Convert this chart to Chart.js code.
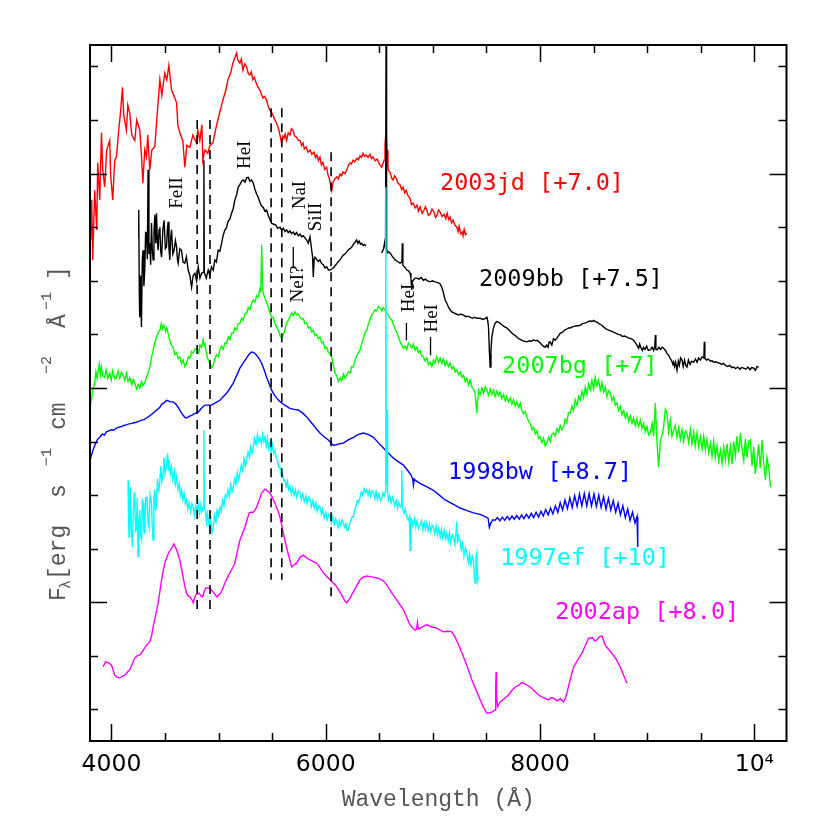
<!DOCTYPE html>
<html>
<head>
<meta charset="utf-8">
<script src="https://cdn.jsdelivr.net/npm/chart.js@4.4.1/dist/chart.umd.min.js"></script>
<style>
html,body{margin:0;padding:0;background:#fff;}
#wrap{width:830px;height:830px;}
</style>
</head>
<body>
<div id="wrap"><canvas id="c" width="830" height="830"></canvas></div>
<script>
// ---------------- DATA ----------------
const seriesNames = ['2003jd [+7.0]', '2009bb [+7.5]', '2007bg [+7]', '1998bw [+8.7]', '1997ef [+10]', '2002ap [+8.0]'];

const spec2003jd = [[3797,8.01],[3806,6.76],[3816,7.51],[3825,6.39],[3844,7.69],[3863,6.95],[3872,8.20],[3891,7.51],[3907,8.76],[3919,8.07],[3937,7.75],[3956,8.44],[3984,8.62],[3993,7.97],[4012,7.51],[4031,8.25],[4047,8.31],[4068,8.81],[4087,9.19],[4103,9.61],[4115,9.09],[4140,8.81],[4153,9.28],[4171,9.13],[4190,8.72],[4218,8.62],[4236,9.00],[4265,8.81],[4283,8.25],[4293,7.82],[4311,8.44],[4327,8.31],[4339,8.72],[4358,8.07],[4377,8.44],[4405,8.50],[4423,9.00],[4452,9.75],[4470,9.46],[4498,9.88],[4517,9.75],[4536,10.02],[4561,9.56],[4582,9.46],[4608,9.32],[4620,8.91],[4638,8.76],[4666,8.62],[4685,8.12],[4704,8.53],[4732,8.49],[4760,8.72],[4794,8.57],[4806,8.81],[4825,8.62],[4844,8.91],[4853,8.25],[4872,8.44],[4900,8.38],[4919,8.53],[4947,8.57],[4975,8.85],[4993,9.00],[5021,9.22],[5040,9.37],[5068,9.56],[5087,9.75],[5115,9.89],[5133,10.06],[5152,10.16],[5168,10.25],[5180,10.12],[5199,10.06],[5213,10.14],[5227,9.93],[5245,10.05],[5262,9.99],[5278,9.86],[5292,9.84],[5306,9.90],[5320,9.75],[5334,9.80],[5348,9.71],[5366,9.62],[5386,9.56],[5400,9.48],[5414,9.41],[5430,9.44],[5448,9.37],[5460,9.28],[5470,9.22],[5482,9.18],[5495,9.13],[5507,9.10],[5517,9.04],[5530,8.98],[5542,8.94],[5552,8.88],[5563,8.81],[5575,8.70],[5588,8.57],[5600,8.70],[5610,8.66],[5622,8.74],[5635,8.62],[5650,8.76],[5666,8.72],[5680,8.84],[5694,8.81],[5710,8.70],[5728,8.68],[5744,8.62],[5760,8.62],[5775,8.52],[5788,8.57],[5800,8.46],[5816,8.50],[5835,8.40],[5853,8.44],[5870,8.36],[5890,8.40],[5905,8.30],[5918,8.35],[5932,8.24],[5946,8.31],[5960,8.16],[5974,8.21],[5990,8.08],[6009,8.12],[6020,7.98],[6031,7.92],[6045,7.80],[6056,7.69],[6068,7.84],[6085,7.90],[6103,7.94],[6118,7.90],[6133,7.99],[6148,7.96],[6161,8.03],[6180,8.00],[6196,8.07],[6212,8.16],[6227,8.20],[6240,8.18],[6255,8.25],[6270,8.22],[6292,8.29],[6305,8.26],[6320,8.33],[6334,8.30],[6348,8.38],[6362,8.32],[6376,8.35],[6395,8.30],[6413,8.36],[6427,8.28],[6441,8.31],[6460,8.24],[6479,8.27],[6500,8.18],[6523,8.12],[6544,8.25],[6553,8.53],[6563,8.81],[6572,8.44],[6581,8.07],[6600,8.03],[6614,7.92],[6628,7.88],[6642,7.96],[6656,7.92],[6675,7.82],[6694,7.79],[6708,7.70],[6722,7.75],[6736,7.64],[6750,7.69],[6770,7.58],[6787,7.54],[6800,7.42],[6815,7.45],[6834,7.36],[6852,7.41],[6866,7.30],[6880,7.38],[6900,7.26],[6918,7.32],[6930,7.38],[6943,7.32],[6958,7.22],[6974,7.24],[6992,7.34],[7011,7.28],[7025,7.18],[7039,7.23],[7053,7.32],[7067,7.28],[7086,7.20],[7105,7.24],[7120,7.16],[7133,7.26],[7147,7.14],[7161,7.19],[7175,7.08],[7189,7.13],[7205,7.04],[7223,7.00],[7235,6.92],[7245,7.02],[7260,6.88],[7273,6.91],[7282,6.84],[7292,6.96],[7305,6.86],[7317,6.89]];

const spec2009bb = [[4250,6.80],[4255,7.32],[4260,5.80],[4264,5.32],[4272,6.10],[4280,5.14],[4288,6.40],[4295,6.57],[4303,5.90],[4311,6.20],[4319,6.90],[4327,6.89],[4335,6.40],[4342,8.07],[4350,6.50],[4358,6.70],[4366,6.30],[4374,7.08],[4381,6.60],[4389,6.39],[4397,6.90],[4405,7.23],[4413,6.70],[4421,7.26],[4428,6.75],[4436,6.57],[4444,6.95],[4452,7.00],[4460,6.55],[4468,6.44],[4480,6.95],[4492,7.13],[4503,6.60],[4514,6.63],[4522,6.95],[4529,7.10],[4537,6.60],[4545,6.39],[4553,6.80],[4561,6.95],[4573,6.50],[4585,6.57],[4597,6.75],[4608,6.63],[4616,6.40],[4623,6.33],[4638,6.60],[4654,6.57],[4668,6.35],[4685,6.33],[4700,6.45],[4716,6.20],[4732,6.10],[4748,5.88],[4763,6.10],[4779,6.14],[4795,6.00],[4810,6.26],[4826,6.05],[4841,6.14],[4858,6.16],[4863,8.25],[4867,6.16],[4885,6.05],[4903,6.20],[4918,6.10],[4934,6.26],[4950,6.20],[4965,6.39],[4980,6.35],[4996,6.57],[5012,6.55],[5028,6.70],[5043,6.85],[5059,6.95],[5073,6.98],[5087,7.10],[5105,7.15],[5121,7.26],[5137,7.35],[5152,7.51],[5168,7.60],[5183,7.75],[5200,7.80],[5215,7.86],[5230,7.88],[5246,7.84],[5262,7.92],[5277,7.93],[5292,7.86],[5308,7.88],[5324,7.82],[5340,7.70],[5355,7.62],[5370,7.56],[5386,7.46],[5400,7.40],[5417,7.37],[5432,7.30],[5448,7.32],[5464,7.22],[5480,7.14],[5495,7.07],[5510,7.06],[5535,7.04],[5550,6.98],[5573,7.00],[5590,6.94],[5605,6.98],[5620,6.92],[5635,6.95],[5650,6.90],[5666,6.93],[5680,6.88],[5697,6.91],[5712,6.86],[5728,6.90],[5744,6.84],[5760,6.87],[5775,6.82],[5790,6.84],[5806,6.80],[5822,6.76],[5837,6.70],[5853,6.82],[5861,6.70],[5869,6.57],[5877,6.45],[5884,6.07],[5892,6.40],[5900,6.44],[5915,6.40],[5930,6.36],[5946,6.39],[5962,6.32],[5977,6.30],[5993,6.24],[6009,6.26],[6025,6.20],[6040,6.20],[6056,6.22],[6071,6.24],[6087,6.28],[6103,6.32],[6118,6.36],[6133,6.39],[6150,6.44],[6164,6.48],[6180,6.50],[6196,6.54],[6211,6.58],[6227,6.60],[6242,6.63],[6258,6.68],[6274,6.72],[6289,6.76],[6300,6.70],[6312,6.74],[6325,6.68],[6336,6.70],[6350,6.66],[6362,6.68],[6376,6.65],[6450,null],[6523,6.52],[6540,6.60],[6554,6.76],[6558,6.60],[6563,10.6],[6568,6.60],[6575,6.52],[6590,6.54],[6600,6.52],[6620,6.46],[6647,6.39],[6670,6.36],[6694,6.33],[6711,6.35],[6715,6.70],[6720,6.29],[6740,6.25],[6757,6.20],[6775,6.18],[6787,6.14],[6795,6.05],[6803,5.83],[6810,6.00],[6818,6.01],[6834,6.05],[6850,6.05],[6870,6.03],[6890,6.06],[6912,6.01],[6930,6.03],[6950,6.00],[6974,5.98],[6995,6.00],[7020,5.98],[7040,5.97],[7052,5.96],[7068,5.94],[7083,5.88],[7098,5.78],[7114,5.64],[7130,5.58],[7145,5.51],[7160,5.46],[7177,5.42],[7195,5.40],[7217,5.38],[7240,5.36],[7260,5.38],[7285,5.36],[7310,5.33],[7330,5.34],[7347,5.32],[7370,5.30],[7390,5.32],[7410,5.30],[7441,5.30],[7470,5.28],[7490,5.30],[7504,5.32],[7512,5.25],[7519,5.14],[7527,4.70],[7534,4.39],[7542,4.70],[7550,4.95],[7565,5.12],[7581,5.21],[7597,5.24],[7612,5.23],[7630,5.20],[7650,5.17],[7670,5.14],[7690,5.12],[7710,5.08],[7730,5.04],[7750,5.00],[7768,4.98],[7784,4.95],[7800,4.92],[7820,4.90],[7840,4.88],[7860,4.87],[7877,4.86],[7900,4.88],[7920,4.87],[7940,4.90],[7955,4.88],[7971,4.89],[7990,4.86],[8010,4.82],[8030,4.78],[8048,4.76],[8060,4.80],[8075,4.76],[8085,4.86],[8095,4.86],[8110,4.80],[8125,4.92],[8142,4.89],[8160,4.94],[8175,4.98],[8188,5.02],[8210,5.04],[8230,5.08],[8250,5.10],[8265,5.12],[8282,5.12],[8300,5.14],[8320,5.15],[8340,5.16],[8358,5.16],[8375,5.17],[8395,5.20],[8415,5.21],[8435,5.22],[8450,5.24],[8469,5.25],[8485,5.24],[8500,5.26],[8515,5.24],[8531,5.23],[8550,5.20],[8570,5.18],[8593,5.14],[8615,5.10],[8640,5.08],[8665,5.06],[8686,5.04],[8710,5.02],[8730,5.00],[8750,4.99],[8770,4.96],[8790,4.97],[8811,4.95],[8830,4.93],[8850,4.92],[8873,4.89],[8890,4.84],[8905,4.80],[8920,4.74],[8930,4.82],[8940,4.76],[8955,4.70],[8966,4.76],[8980,4.72],[8995,4.78],[9010,4.70],[9029,4.71],[9045,4.76],[9060,4.70],[9071,4.78],[9076,4.99],[9081,4.72],[9092,4.71],[9110,4.76],[9125,4.72],[9140,4.76],[9153,4.74],[9170,4.70],[9185,4.64],[9200,4.61],[9215,4.55],[9230,4.50],[9240,4.44],[9247,4.48],[9255,4.40],[9265,4.48],[9278,4.33],[9290,4.50],[9300,4.42],[9312,4.56],[9325,4.52],[9336,4.40],[9348,4.52],[9360,4.42],[9371,4.39],[9385,4.52],[9400,4.44],[9415,4.50],[9433,4.48],[9450,4.54],[9465,4.48],[9480,4.56],[9496,4.52],[9512,4.58],[9529,4.56],[9533,4.86],[9538,4.56],[9552,4.52],[9570,4.54],[9590,4.50],[9605,4.51],[9620,4.48],[9640,4.49],[9660,4.47],[9680,4.46],[9695,4.44],[9713,4.46],[9730,4.42],[9750,4.40],[9770,4.42],[9790,4.38],[9807,4.39],[9825,4.36],[9845,4.39],[9865,4.35],[9880,4.38],[9900,4.37],[9920,4.35],[9940,4.39],[9960,4.34],[9975,4.38],[9994,4.37],[10010,4.33],[10025,4.40],[10041,4.39]];

const spec2007bg = [[3797,3.40],[3805,3.70],[3813,3.77],[3825,3.95],[3844,4.09],[3855,4.30],[3866,4.18],[3875,4.30],[3887,4.45],[3897,4.25],[3907,4.39],[3920,4.22],[3937,4.20],[3950,4.34],[3965,4.18],[3984,4.28],[3998,4.15],[4012,4.32],[4030,4.17],[4047,4.20],[4062,4.32],[4078,4.18],[4093,4.30],[4108,4.24],[4125,4.14],[4140,4.28],[4155,4.12],[4171,4.19],[4190,4.06],[4205,4.16],[4218,4.09],[4235,3.98],[4250,4.06],[4265,4.00],[4280,4.12],[4295,4.04],[4311,4.09],[4330,4.22],[4345,4.30],[4358,4.39],[4375,4.58],[4390,4.70],[4405,4.84],[4420,4.95],[4435,5.02],[4452,5.08],[4465,5.20],[4478,5.10],[4489,5.17],[4505,5.05],[4517,5.12],[4529,5.02],[4545,4.88],[4560,4.80],[4576,4.76],[4592,4.62],[4608,4.66],[4622,4.55],[4638,4.58],[4655,4.45],[4670,4.52],[4685,4.40],[4701,4.46],[4717,4.58],[4732,4.55],[4748,4.68],[4763,4.65],[4780,4.72],[4800,4.74],[4815,4.66],[4826,4.80],[4841,4.76],[4856,4.90],[4864,4.78],[4872,4.84],[4888,4.62],[4903,4.52],[4919,4.46],[4935,4.38],[4950,4.43],[4965,4.55],[4980,4.62],[4996,4.58],[5012,4.71],[5028,4.78],[5043,4.72],[5059,4.84],[5075,4.84],[5090,4.95],[5105,4.90],[5121,5.02],[5137,5.02],[5152,5.12],[5168,5.08],[5183,5.20],[5199,5.21],[5215,5.30],[5230,5.26],[5246,5.38],[5262,5.40],[5277,5.50],[5292,5.46],[5308,5.58],[5324,5.64],[5340,5.60],[5355,5.72],[5370,5.70],[5385,5.85],[5394,5.80],[5402,6.67],[5410,5.92],[5417,5.77],[5432,5.68],[5448,5.60],[5464,5.51],[5480,5.40],[5495,5.32],[5510,5.32],[5526,5.20],[5542,5.14],[5557,5.08],[5573,4.98],[5588,4.93],[5604,5.00],[5619,5.08],[5635,5.22],[5650,5.26],[5666,5.32],[5682,5.40],[5697,5.35],[5713,5.42],[5728,5.36],[5744,5.38],[5760,5.32],[5776,5.28],[5790,5.30],[5806,5.20],[5822,5.21],[5837,5.12],[5853,5.14],[5869,5.05],[5884,5.08],[5900,4.98],[5915,5.00],[5930,4.92],[5946,4.95],[5962,4.84],[5977,4.86],[5993,4.74],[6009,4.76],[6025,4.66],[6040,4.65],[6056,4.58],[6071,4.42],[6087,4.28],[6103,4.22],[6118,4.12],[6133,4.19],[6150,4.14],[6164,4.26],[6180,4.18],[6196,4.24],[6211,4.30],[6227,4.28],[6242,4.40],[6258,4.39],[6274,4.52],[6289,4.60],[6305,4.66],[6320,4.71],[6336,4.84],[6351,4.92],[6367,5.04],[6383,5.08],[6398,5.20],[6414,5.28],[6430,5.36],[6445,5.40],[6460,5.46],[6476,5.44],[6492,5.52],[6507,5.49],[6523,5.44],[6538,5.50],[6554,5.45],[6570,5.40],[6585,5.36],[6600,5.30],[6616,5.27],[6632,5.18],[6647,5.10],[6663,5.04],[6678,4.95],[6694,4.86],[6710,4.80],[6725,4.74],[6741,4.78],[6756,4.72],[6772,4.84],[6787,4.80],[6803,4.74],[6818,4.82],[6834,4.70],[6850,4.76],[6865,4.66],[6880,4.70],[6896,4.60],[6912,4.58],[6928,4.50],[6943,4.56],[6959,4.44],[6974,4.48],[6990,4.40],[7005,4.52],[7020,4.46],[7036,4.58],[7052,4.48],[7067,4.56],[7083,4.46],[7098,4.54],[7114,4.42],[7130,4.50],[7145,4.40],[7161,4.46],[7177,4.36],[7192,4.40],[7208,4.30],[7223,4.34],[7239,4.25],[7254,4.30],[7270,4.20],[7285,4.24],[7301,4.12],[7317,4.18],[7332,4.06],[7347,4.15],[7363,4.02],[7379,3.98],[7394,3.90],[7410,3.53],[7425,3.96],[7441,3.88],[7457,4.00],[7472,3.90],[7488,4.02],[7504,3.96],[7519,3.86],[7535,3.98],[7550,3.88],[7566,3.96],[7581,3.84],[7597,3.94],[7612,3.86],[7628,3.92],[7643,3.80],[7659,3.88],[7675,3.76],[7690,3.84],[7706,3.74],[7721,3.81],[7737,3.70],[7752,3.78],[7768,3.66],[7784,3.74],[7799,3.64],[7815,3.72],[7830,3.58],[7846,3.52],[7862,3.56],[7877,3.46],[7893,3.38],[7908,3.34],[7924,3.22],[7939,3.27],[7955,3.14],[7971,3.20],[7986,3.06],[8002,3.09],[8017,2.98],[8033,3.06],[8048,2.92],[8064,2.97],[8080,3.08],[8095,3.00],[8111,3.14],[8126,3.16],[8142,3.10],[8157,3.24],[8173,3.18],[8188,3.30],[8204,3.22],[8219,3.27],[8235,3.42],[8250,3.36],[8266,3.54],[8282,3.53],[8297,3.66],[8313,3.58],[8328,3.78],[8344,3.68],[8360,3.84],[8375,3.77],[8391,3.94],[8406,3.82],[8422,4.02],[8438,3.88],[8453,4.08],[8469,3.96],[8484,4.14],[8500,3.98],[8515,4.20],[8531,4.04],[8546,4.15],[8562,3.96],[8578,4.10],[8593,3.92],[8609,4.02],[8624,3.84],[8640,3.95],[8655,3.90],[8671,3.76],[8686,3.84],[8702,3.68],[8718,3.72],[8733,3.58],[8749,3.66],[8764,3.50],[8780,3.58],[8796,3.44],[8811,3.53],[8827,3.38],[8842,3.48],[8858,3.34],[8873,3.44],[8889,3.30],[8904,3.42],[8920,3.28],[8936,3.40],[8951,3.24],[8967,3.34],[8982,3.18],[8998,3.28],[9013,3.12],[9029,3.16],[9045,3.34],[9060,3.10],[9076,3.72],[9091,3.00],[9107,2.52],[9122,3.00],[9138,3.12],[9153,3.27],[9169,3.60],[9185,3.53],[9200,3.18],[9216,3.40],[9231,3.10],[9247,3.21],[9262,3.30],[9278,3.08],[9294,3.26],[9309,3.04],[9325,3.22],[9340,3.00],[9356,3.20],[9371,3.16],[9387,2.98],[9403,3.22],[9418,2.96],[9434,3.18],[9449,2.92],[9465,3.16],[9480,2.90],[9496,3.09],[9512,2.86],[9527,3.10],[9543,2.84],[9558,3.04],[9574,2.80],[9590,2.97],[9605,2.72],[9621,3.00],[9636,2.70],[9652,2.92],[9667,2.64],[9683,2.84],[9699,2.60],[9714,2.90],[9730,2.66],[9745,2.96],[9761,2.62],[9776,2.90],[9792,2.58],[9807,3.00],[9823,2.74],[9838,3.10],[9854,2.80],[9870,3.16],[9885,2.86],[9901,2.65],[9916,3.05],[9932,2.70],[9947,3.00],[9963,3.03],[9978,2.55],[9994,2.90],[10009,2.40],[10025,2.65],[10040,2.95],[10056,2.50],[10072,3.03],[10087,2.60],[10103,2.28],[10118,2.70],[10134,2.52],[10150,2.15]];

const spec1998bw = [[3797,2.60],[3810,2.72],[3828,2.84],[3850,2.96],[3870,3.04],[3891,3.08],[3915,3.14],[3935,3.12],[3953,3.18],[3975,3.20],[4000,3.22],[4020,3.21],[4047,3.25],[4070,3.27],[4095,3.28],[4115,3.30],[4140,3.31],[4165,3.33],[4190,3.34],[4210,3.35],[4234,3.36],[4258,3.38],[4280,3.40],[4305,3.41],[4327,3.44],[4350,3.47],[4370,3.50],[4389,3.53],[4410,3.57],[4430,3.60],[4452,3.64],[4470,3.70],[4490,3.72],[4514,3.77],[4530,3.76],[4550,3.74],[4576,3.74],[4600,3.70],[4623,3.64],[4645,3.56],[4670,3.49],[4685,3.45],[4701,3.44],[4725,3.47],[4748,3.49],[4775,3.52],[4810,3.55],[4840,3.62],[4872,3.68],[4900,3.68],[4934,3.68],[4970,3.72],[5012,3.77],[5045,3.84],[5075,3.90],[5105,3.99],[5137,4.09],[5170,4.24],[5199,4.37],[5230,4.47],[5262,4.56],[5285,4.63],[5308,4.67],[5330,4.66],[5355,4.61],[5380,4.54],[5402,4.46],[5425,4.34],[5448,4.20],[5472,4.08],[5495,3.96],[5520,3.87],[5542,3.81],[5565,3.76],[5588,3.72],[5625,3.67],[5666,3.62],[5705,3.60],[5744,3.59],[5785,3.53],[5822,3.46],[5855,3.38],[5884,3.31],[5915,3.23],[5946,3.16],[5985,3.09],[6024,3.03],[6050,2.97],[6071,2.93],[6100,2.94],[6130,2.96],[6164,2.97],[6210,3.03],[6258,3.08],[6300,3.13],[6351,3.16],[6400,3.13],[6445,3.08],[6490,2.98],[6538,2.88],[6585,2.78],[6632,2.69],[6680,2.62],[6725,2.56],[6765,2.46],[6795,2.38],[6803,2.34],[6812,2.30],[6818,2.19],[6826,2.30],[6834,2.28],[6880,2.22],[6940,2.16],[7005,2.09],[7060,2.00],[7114,1.91],[7180,1.84],[7254,1.76],[7320,1.71],[7379,1.67],[7440,1.64],[7488,1.60],[7515,1.57],[7527,1.40],[7540,1.48],[7560,1.54],[7580,1.53],[7602,1.58],[7625,1.52],[7648,1.59],[7670,1.53],[7693,1.60],[7716,1.54],[7738,1.61],[7760,1.55],[7783,1.62],[7806,1.55],[7828,1.63],[7850,1.56],[7873,1.64],[7896,1.57],[7918,1.66],[7940,1.58],[7963,1.68],[7986,1.59],[8008,1.70],[8030,1.61],[8053,1.73],[8076,1.63],[8098,1.76],[8120,1.65],[8143,1.80],[8166,1.68],[8188,1.86],[8210,1.72],[8233,1.91],[8256,1.75],[8278,1.95],[8300,1.77],[8323,1.99],[8346,1.79],[8368,2.02],[8390,1.80],[8413,2.03],[8436,1.80],[8458,2.03],[8480,1.80],[8503,2.02],[8526,1.79],[8548,2.00],[8570,1.77],[8593,1.97],[8616,1.74],[8638,1.94],[8660,1.72],[8683,1.90],[8706,1.68],[8728,1.85],[8750,1.63],[8773,1.80],[8796,1.58],[8818,1.74],[8840,1.53],[8863,1.68],[8886,1.48],[8905,1.60],[8912,1.03]];

const spec1997ef = [[4155,2.28],[4160,1.50],[4164,1.22],[4170,1.90],[4177,2.15],[4185,1.40],[4196,1.03],[4205,1.70],[4212,2.05],[4218,1.91],[4226,1.30],[4234,1.40],[4240,1.95],[4249,0.85],[4256,1.50],[4265,1.72],[4272,1.25],[4281,1.16],[4288,1.90],[4296,1.85],[4303,1.30],[4311,1.29],[4320,1.95],[4333,1.96],[4342,1.50],[4351,1.40],[4360,2.00],[4374,1.85],[4380,1.45],[4389,1.16],[4396,1.95],[4405,2.10],[4412,1.70],[4421,1.85],[4430,2.30],[4440,2.05],[4452,2.28],[4462,2.55],[4470,2.25],[4483,2.41],[4492,2.70],[4500,2.40],[4514,2.53],[4525,2.78],[4532,2.45],[4539,2.66],[4550,2.40],[4561,2.53],[4572,2.30],[4585,2.45],[4596,2.20],[4608,2.34],[4620,2.10],[4632,2.22],[4643,2.00],[4654,2.10],[4666,1.92],[4678,2.04],[4690,1.84],[4701,1.91],[4713,1.74],[4725,1.86],[4738,1.70],[4750,1.84],[4763,1.78],[4775,1.62],[4786,1.80],[4798,1.70],[4810,1.85],[4822,1.66],[4834,1.82],[4845,1.70],[4851,1.76],[4858,1.74],[4863,3.21],[4868,1.74],[4875,1.72],[4887,1.50],[4895,1.66],[4903,1.54],[4915,1.40],[4925,1.58],[4938,1.30],[4950,1.40],[4962,1.62],[4975,1.50],[4987,1.72],[5000,1.62],[5012,1.78],[5025,1.70],[5037,1.90],[5050,1.80],[5062,2.00],[5075,1.96],[5087,2.10],[5100,1.98],[5112,2.18],[5125,2.06],[5137,2.15],[5150,2.30],[5162,2.20],[5175,2.42],[5187,2.30],[5199,2.41],[5212,2.56],[5225,2.46],[5237,2.68],[5250,2.54],[5262,2.65],[5275,2.80],[5287,2.70],[5300,2.90],[5312,2.78],[5324,2.90],[5337,3.06],[5350,2.94],[5362,3.12],[5374,3.00],[5386,3.07],[5398,2.96],[5410,3.14],[5422,3.00],[5433,3.09],[5445,2.92],[5456,3.06],[5467,2.88],[5479,2.97],[5490,2.80],[5502,2.94],[5514,2.78],[5526,2.84],[5538,2.68],[5550,2.66],[5561,2.52],[5573,2.52],[5585,2.38],[5596,2.42],[5608,2.26],[5619,2.28],[5631,2.16],[5643,2.26],[5655,2.10],[5666,2.15],[5680,2.02],[5692,2.14],[5705,2.00],[5718,2.10],[5730,1.96],[5744,2.08],[5760,2.04],[5772,1.92],[5786,2.02],[5800,1.88],[5814,1.98],[5827,1.84],[5840,1.96],[5853,1.91],[5866,1.78],[5880,1.90],[5893,1.76],[5906,1.86],[5920,1.70],[5933,1.80],[5946,1.78],[5960,1.64],[5973,1.74],[5986,1.58],[6000,1.68],[6013,1.54],[6026,1.64],[6040,1.59],[6053,1.48],[6066,1.60],[6080,1.46],[6092,1.56],[6103,1.50],[6116,1.40],[6128,1.52],[6140,1.44],[6152,1.54],[6164,1.48],[6176,1.40],[6188,1.46],[6200,1.34],[6211,1.35],[6222,1.46],[6234,1.52],[6246,1.60],[6258,1.59],[6270,1.74],[6282,1.80],[6295,1.90],[6307,1.86],[6320,1.96],[6332,2.06],[6345,2.00],[6358,2.12],[6370,2.04],[6383,2.10],[6396,2.00],[6408,2.10],[6420,1.98],[6433,2.08],[6445,2.06],[6458,1.94],[6470,2.06],[6483,1.92],[6496,2.02],[6510,1.90],[6523,1.96],[6535,2.04],[6545,1.98],[6554,2.06],[6559,2.10],[6562,7.75],[6566,2.20],[6569,2.28],[6573,3.59],[6577,2.10],[6585,1.91],[6598,1.98],[6610,1.86],[6622,1.96],[6632,1.91],[6645,1.80],[6658,1.90],[6670,1.76],[6682,1.86],[6694,1.78],[6705,1.81],[6710,2.47],[6717,1.76],[6730,1.66],[6742,1.74],[6755,1.60],[6771,1.54],[6781,1.60],[6787,0.97],[6795,1.56],[6803,1.54],[6815,1.42],[6828,1.56],[6840,1.40],[6852,1.52],[6865,1.38],[6880,1.44],[6893,1.52],[6905,1.36],[6918,1.50],[6930,1.36],[6943,1.48],[6955,1.34],[6968,1.46],[6980,1.32],[6993,1.44],[7005,1.40],[7018,1.28],[7030,1.42],[7043,1.26],[7055,1.38],[7068,1.22],[7080,1.36],[7093,1.20],[7105,1.34],[7118,1.18],[7130,1.29],[7143,1.14],[7155,1.30],[7167,1.12],[7180,1.26],[7192,1.22],[7205,1.08],[7215,1.30],[7223,1.50],[7230,1.10],[7240,1.24],[7254,1.16],[7265,0.98],[7278,1.10],[7290,0.86],[7303,1.02],[7317,0.92],[7330,0.74],[7342,0.90],[7355,0.70],[7367,0.86],[7379,0.79],[7386,0.50],[7394,0.36],[7402,0.84],[7410,0.92],[7418,0.40],[7425,0.47]];

const spec2002ap = [[3922,-1.20],[3947,-1.11],[3975,-1.13],[4000,-1.17],[4031,-1.36],[4055,-1.40],[4078,-1.41],[4100,-1.38],[4125,-1.36],[4150,-1.30],[4171,-1.26],[4195,-1.15],[4218,-1.04],[4240,-1.00],[4265,-0.98],[4295,-0.90],[4327,-0.80],[4358,-0.74],[4375,-0.62],[4389,-0.46],[4412,-0.25],[4436,-0.01],[4452,0.20],[4468,0.42],[4484,0.60],[4498,0.73],[4520,0.86],[4539,0.94],[4560,1.00],[4583,1.09],[4608,0.98],[4638,0.79],[4655,0.62],[4669,0.47],[4685,0.30],[4701,0.17],[4716,0.12],[4732,0.10],[4748,0.06],[4763,-0.01],[4775,0.08],[4788,0.14],[4800,0.16],[4819,0.17],[4835,0.12],[4851,0.10],[4865,0.20],[4882,0.27],[4900,0.26],[4919,0.27],[4935,0.22],[4950,0.19],[4968,0.14],[4987,0.10],[5003,0.14],[5019,0.17],[5040,0.26],[5059,0.36],[5082,0.46],[5106,0.55],[5130,0.64],[5152,0.73],[5175,0.95],[5199,1.16],[5222,1.28],[5246,1.40],[5266,1.54],[5286,1.67],[5305,1.68],[5324,1.68],[5340,1.72],[5355,1.78],[5378,1.90],[5402,2.04],[5418,2.08],[5433,2.11],[5455,2.08],[5479,2.04],[5503,1.95],[5526,1.85],[5550,1.73],[5573,1.59],[5595,1.38],[5619,1.16],[5650,0.90],[5682,0.66],[5705,0.70],[5728,0.73],[5760,0.84],[5790,0.88],[5822,0.83],[5853,0.79],[5885,0.76],[5915,0.73],[5945,0.65],[5977,0.55],[6010,0.48],[6040,0.42],[6070,0.36],[6103,0.29],[6135,0.18],[6164,0.08],[6180,0.02],[6196,-0.01],[6218,0.05],[6242,0.14],[6280,0.28],[6320,0.42],[6350,0.47],[6383,0.49],[6415,0.48],[6445,0.47],[6485,0.45],[6523,0.42],[6548,0.38],[6570,0.32],[6615,0.18],[6663,0.04],[6695,-0.05],[6725,-0.14],[6755,-0.28],[6787,-0.42],[6810,-0.48],[6834,-0.52],[6848,-0.50],[6856,-0.37],[6864,-0.50],[6880,-0.48],[6910,-0.45],[6943,-0.42],[6990,-0.46],[7036,-0.48],[7068,-0.52],[7098,-0.55],[7140,-0.54],[7177,-0.55],[7208,-0.65],[7245,-0.82],[7286,-1.02],[7325,-1.22],[7364,-1.45],[7400,-1.62],[7441,-1.82],[7472,-1.96],[7504,-2.07],[7528,-2.06],[7550,-2.05],[7581,-2.01],[7586,-1.60],[7590,-1.30],[7594,-1.70],[7603,-1.95],[7628,-1.86],[7665,-1.80],[7706,-1.73],[7735,-1.65],[7768,-1.58],[7800,-1.55],[7825,-1.50],[7846,-1.51],[7875,-1.54],[7908,-1.58],[7945,-1.65],[7986,-1.73],[8030,-1.78],[8079,-1.82],[8100,-1.78],[8126,-1.79],[8160,-1.84],[8190,-1.80],[8219,-1.86],[8235,-1.80],[8251,-1.69],[8280,-1.45],[8313,-1.21],[8350,-1.08],[8391,-0.95],[8420,-0.82],[8453,-0.67],[8490,-0.66],[8510,-0.72],[8531,-0.70],[8555,-0.64],[8578,-0.63],[8595,-0.72],[8609,-0.80],[8640,-0.88],[8671,-0.95],[8710,-1.06],[8749,-1.21],[8780,-1.36],[8811,-1.51]];

// line identification markers
const lineWaves   = [4800, 4920, 5490, 5590, 6050];
const lineTops    = [9.00, 9.00, 9.22, 9.22, 8.40];
const lineBottoms = [-0.18, -0.18, 0.42, 0.42, 0.00];
const markWaves   = [5697, 6753, 6978];
const markTops    = [6.63, 5.21, 4.95];
const markBottoms = [6.26, 4.89, 4.61];
const idLabels    = ['FeII', 'HeI', 'NaI', 'SiII', 'NeI?', 'HeI', 'HeI'];
const idWaves     = [4610, 5248, 5760, 5909, 5741, 6779, 6996];
const idFluxes    = [7.64, 8.35, 7.60, 7.19, 5.94, 5.68, 5.30];

// axes ticks
const xTickValues = [4000,4500,5000,5500,6000,6500,7000,7500,8000,8500,9000,9500,10000];
const xMajorTicks = [4000,6000,8000,10000];
const xTickLabels = {4000:'4000', 6000:'6000', 8000:'8000', 10000:'10\u2074'};
const yTickValues = [-2,-1,0,1,2,3,4,5,6,7,8,9,10];
const yMajorTicks = [0,4,8];

// ---------------- STYLE / LAYOUT ----------------
const colors = ['#ff0000', '#000000', '#00ff00', '#0000ff', '#00ffff', '#ff00ff'];
const nameAnchors = [ // [wavelength, flux] of the left-middle of each name
  [7067, 7.80], [7431, 6.01], [7646, 4.39], [7142, 2.41], [7628, 0.81], [8142, -0.20]
];

const toXY = arr => arr.map(p => ({x: p[0], y: p[1]}));
const specList = [spec2003jd, spec2009bb, spec2007bg, spec1998bw, spec1997ef, spec2002ap];

const datasets = [];
lineWaves.forEach((w, i) => datasets.push({
  data: [{x: w, y: lineTops[i]}, {x: w, y: lineBottoms[i]}],
  borderColor: '#000', borderWidth: 1.6, borderDash: [9, 6], showLine: true, pointRadius: 0
}));
markWaves.forEach((w, i) => datasets.push({
  data: [{x: w, y: markTops[i]}, {x: w, y: markBottoms[i]}],
  borderColor: '#000', borderWidth: 1.3, showLine: true, pointRadius: 0
}));
// drawing order: first dataset drawn on top
[4, 5, 3, 2, 1, 0].forEach(i => datasets.push({
  label: seriesNames[i],
  data: toXY(specList[i]),
  borderColor: colors[i], borderWidth: 1.4, showLine: true, pointRadius: 0,
  tension: 0, spanGaps: false
}));

const decor = {
  id: 'decor',
  afterDatasetsDraw(chart) {
    const {ctx, chartArea: a, scales: {x, y}} = chart;
    ctx.save();
    ctx.strokeStyle = '#000';
    ctx.lineCap = 'butt';
    ctx.lineWidth = 1.5;
    const seg = (x1, y1, x2, y2) => { ctx.beginPath(); ctx.moveTo(x1, y1); ctx.lineTo(x2, y2); ctx.stroke(); };
    xTickValues.forEach(v => {
      const px = Math.round(x.getPixelForValue(v)) + 0.5;
      const len = xMajorTicks.includes(v) ? 17 : 8;
      seg(px, a.bottom, px, a.bottom - len);
      seg(px, a.top, px, a.top + len);
    });
    yTickValues.forEach(v => {
      const py = Math.round(y.getPixelForValue(v)) + 0.5;
      const len = yMajorTicks.includes(v) ? 17 : 8;
      seg(a.left, py, a.left + len, py);
      seg(a.right, py, a.right - len, py);
    });
    ctx.lineWidth = 2;
    ctx.strokeRect(a.left, a.top, a.right - a.left, a.bottom - a.top);

    // series names
    ctx.font = '23.5px "DejaVu Sans Mono"';
    ctx.textAlign = 'left';
    ctx.textBaseline = 'middle';
    nameAnchors.forEach((p, i) => {
      ctx.fillStyle = colors[i];
      ctx.fillText(seriesNames[i], x.getPixelForValue(p[0]), y.getPixelForValue(p[1]));
    });

    // line identifications (rotated)
    ctx.fillStyle = '#000';
    ctx.font = '19px "Liberation Serif"';
    ctx.textAlign = 'center';
    idLabels.forEach((t, i) => {
      ctx.save();
      ctx.translate(x.getPixelForValue(idWaves[i]), y.getPixelForValue(idFluxes[i]));
      ctx.rotate(-Math.PI / 2);
      ctx.fillText(t, 0, 0);
      ctx.restore();
    });

    // y axis title (rotated)
    ctx.fillStyle = '#555';
    ctx.textAlign = 'left';
    ctx.textBaseline = 'alphabetic';
    ctx.save();
    ctx.rotate(-Math.PI / 2);
    const base = 65, sup = 51, sub = 70;
    const parts = [
      ['F', 601, base, 23], ['\u03bb', 589, sub, 15], ['[erg', 580, base, 23], ['s', 498, base, 23],
      ['\u22121', 466, sup, 15], ['cm', 430, base, 23], ['\u22122', 374, sup, 15],
      ['\u00c5', 328, base, 23], ['\u22121', 310, sup, 15], [']', 280, base, 23]
    ];
    parts.forEach(([t, p, b, s]) => {
      ctx.font = s + 'px "Liberation Mono"';
      ctx.fillText(t, -p, b);
    });
    ctx.restore();
    ctx.restore();
  }
};

new Chart(document.getElementById('c'), {
  type: 'scatter',
  data: {datasets},
  options: {
    responsive: false,
    devicePixelRatio: 1,
    animation: false,
    events: [],
    layout: {padding: {left: 90, top: 45, right: 43.5, bottom: 16.2}},
    plugins: {legend: {display: false}, tooltip: {enabled: false}},
    scales: {
      x: {
        type: 'linear', min: 3800, max: 10300, position: 'bottom',
        grid: {display: false, drawTicks: false},
        border: {display: false},
        afterBuildTicks: s => { s.ticks = xTickValues.map(v => ({value: v})); },
        afterFit: s => { s.height = 72.8; },
        ticks: {
          autoSkip: false, maxRotation: 0, minRotation: 0, padding: 10,
          color: '#000', font: {family: 'DejaVu Sans', size: 23.5},
          callback: v => xTickLabels[v] || ''
        },
        title: {
          display: true, text: 'Wavelength (\u00c5)', color: '#555',
          font: {family: 'Liberation Mono', size: 23}, padding: {top: 7, bottom: 0}
        }
      },
      y: {type: 'linear', min: -2.588, max: 10.40, display: false}
    }
  },
  plugins: [decor]
});
</script>
</body>
</html>
